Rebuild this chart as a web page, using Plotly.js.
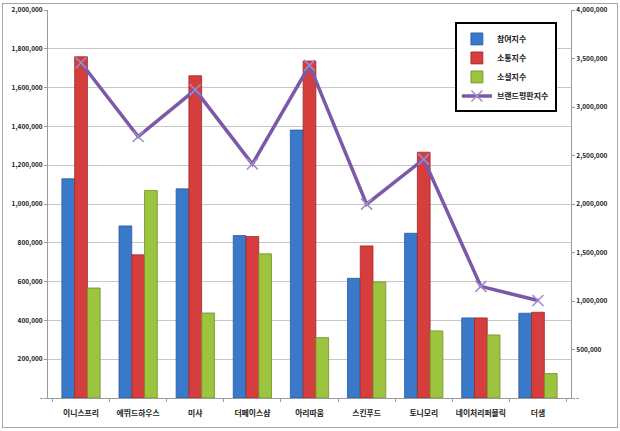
<!DOCTYPE html>
<html>
<head>
<meta charset="utf-8">
<script src="https://cdn.plot.ly/plotly-3.0.1.min.js"></script>
<style>
  body { margin: 0; background: #fff; }
  #wrap { position: relative; width: 620px; height: 431px; }
  #plot { width: 620px; height: 431px; }
  #frame { position: absolute; left: 2px; top: 3px; width: 614px; height: 423px;
           border: 1px solid #a6a6a6; pointer-events: none; }
</style>
</head>
<body>
<div id="wrap">
  <div id="plot"></div>
  <div id="frame"></div>
</div>
<script>
const brands = ['이니스프리', '에뛰드하우스', '미샤', '더페이스샵', '아리따움', '스킨푸드', '토니모리', '네이처리퍼블릭', '더샘'];

// 참여지수 / 소통지수 / 소셜지수 (left axis)
const participation = [1130000, 887000, 1078000, 837000, 1381000, 617000, 849000, 413000, 437000];
const communication = [1759000, 738000, 1661000, 832000, 1737000, 784000, 1267000, 413000, 442000];
const social = [567000, 1070000, 438000, 743000, 311000, 598000, 346000, 325000, 126000];

// 브랜드평판지수 (right axis)
const reputation = [3456000, 2695000, 3177000, 2412000, 3429000, 1999000, 2462000, 1151000, 1005000];

const leftTicks = [0, 200000, 400000, 600000, 800000, 1000000, 1200000, 1400000, 1600000, 1800000, 2000000];
const rightTicks = [0, 500000, 1000000, 1500000, 2000000, 2500000, 3000000, 3500000, 4000000];

function fmt(v) {
  if (v === 0) return '-';
  return v.toLocaleString('en-US');
}

const FONT = '"Noto Sans CJK KR", "Noto Sans", sans-serif';

function barTrace(name, values, color, edge, group) {
  return {
    type: 'bar',
    name: name,
    x: brands,
    y: values,
    legendgroup: group,
    marker: { color: color, line: { color: edge, width: 0.8 } },
    hoverinfo: 'skip'
  };
}

const data = [
  barTrace('참여지수', participation, '#3a78c9', '#2a5a99', 'a'),
  barTrace('소통지수', communication, '#d63e3e', '#9e2a2a', 'b'),
  barTrace('소셜지수', social, '#9cc43e', '#6e8f28', 'c'),
  {
    type: 'scatter',
    mode: 'lines+markers',
    name: '브랜드평판지수',
    x: brands,
    y: reputation,
    yaxis: 'y2',
    legendgroup: 'd',
    line: { color: '#7b58a8', width: 3.5 },
    marker: { symbol: 'x-thin', size: 11, line: { color: '#a08cc6', width: 1.5 }, color: '#a08cc6' },
    hoverinfo: 'skip'
  }
];

const layout = {
  width: 620,
  height: 431,
  margin: { l: 48, r: 49, t: 10, b: 33 },
  paper_bgcolor: '#ffffff',
  plot_bgcolor: '#ffffff',
  font: { family: FONT, size: 8, color: '#222' },
  barmode: 'group',
  bargap: 0.33,
  bargroupgap: 0,
  showlegend: true,
  legend: {
    x: 0.778, y: 0.968, xanchor: 'left', yanchor: 'top',
    bgcolor: '#ffffff',
    bordercolor: '#000000',
    borderwidth: 2,
    traceorder: 'grouped',
    tracegroupgap: 0,
    font: { family: FONT, size: 8, color: '#222', weight: 600 },
    itemwidth: 30
  },
  xaxis: {
    type: 'category',
    showline: true,
    linecolor: '#9a9a9a',
    linewidth: 1,
    ticks: 'outside',
    tickson: 'boundaries',
    ticklen: 3,
    tickcolor: '#9a9a9a',
    tickangle: 0,
    ticklabelstandoff: 8,
    automargin: false,
    tickfont: { family: FONT, size: 7.8, color: '#222', weight: 600 },
    showgrid: false
  },
  yaxis: {
    range: [0, 2000000],
    tickmode: 'array',
    tickvals: leftTicks,
    ticktext: leftTicks.map(fmt),
    tickfont: { family: FONT, size: 6.5, color: '#222', weight: 600 },
    showline: true,
    linecolor: '#9a9a9a',
    ticks: 'outside',
    ticklen: 3,
    tickcolor: '#9a9a9a',
    showgrid: true,
    gridcolor: '#c8c8c8',
    gridwidth: 1,
    zeroline: false
  },
  yaxis2: {
    overlaying: 'y',
    side: 'right',
    range: [0, 4000000],
    tickmode: 'array',
    tickvals: rightTicks,
    ticktext: rightTicks.map(fmt),
    tickfont: { family: FONT, size: 6.5, color: '#222', weight: 600 },
    showline: true,
    linecolor: '#9a9a9a',
    ticks: 'outside',
    ticklen: 3,
    tickcolor: '#9a9a9a',
    showgrid: false,
    zeroline: false
  }
};

Plotly.newPlot('plot', data, layout, { displayModeBar: false, staticPlot: true });
</script>
</body>
</html>
